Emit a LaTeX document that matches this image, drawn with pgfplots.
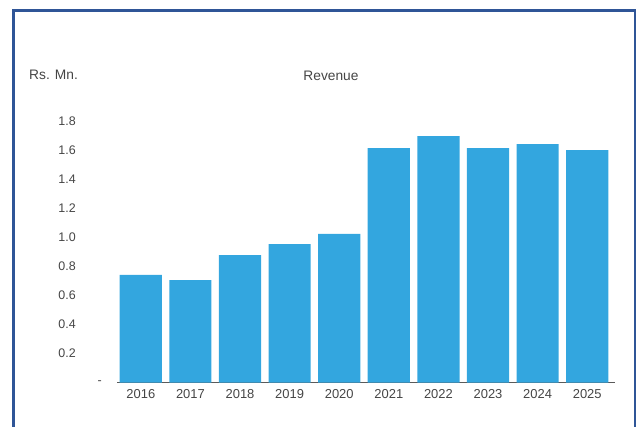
\documentclass[border=0pt]{standalone}
\usepackage{pgfplots}
\pgfplotsset{compat=1.18}
\usepackage{fontspec}
\setmainfont{Liberation Sans}
\definecolor{barblue}{HTML}{33A6DF}
\definecolor{frameblue}{HTML}{2F5597}
\definecolor{txtgray}{HTML}{454545}
\definecolor{axgray}{HTML}{5A5A5A}
\begin{document}
\begin{tikzpicture}[x=1bp,y=1bp]
\useasboundingbox (0,0) rectangle (637,426);
\draw[frameblue, line width=2.2bp] (13.5,-1) -- (13.5,415.5) -- (635.3,415.5) -- (635.3,-1);
\begin{axis}[
  at={(117bp,43.3bp)}, anchor=south west,
  scale only axis, width=498bp, height=261.7bp,
  xmin=-0.48, xmax=9.56, ymin=0, ymax=1.8,
  axis x line*=bottom, axis y line*=left,
  y axis line style={draw=none},
  x axis line style={draw=axgray, line width=1.3bp, -},
  major tick length=0pt,
  xtick={0,...,9},
  xticklabels={2016,2017,2018,2019,2020,2021,2022,2023,2024,2025},
  ytick={0.2,0.4,0.6,0.8,1.0,1.2,1.4,1.6,1.8},
  yticklabels={0.2,0.4,0.6,0.8,1.0,1.2,1.4,1.6,1.8},
  extra y ticks={0}, extra y tick labels={-},
  extra y tick style={yticklabel style={xshift=26bp}},
  yticklabel style={font=\fontsize{12.5}{14}\selectfont, text=txtgray, inner sep=0pt, anchor=east, xshift=-41bp},
  xticklabel style={font=\fontsize{13}{15}\selectfont, text=txtgray, inner sep=0pt, anchor=north, yshift=-7bp},
  clip=false,
]
\addplot[ybar, bar width=0.85, fill=barblue, draw=none] coordinates {
(0,0.741) (1,0.706) (2,0.878) (3,0.954) (4,1.023)
(5,1.614) (6,1.696) (7,1.614) (8,1.641) (9,1.600)};
\end{axis}
\node[anchor=west, inner sep=0pt, text=txtgray, font=\fontsize{13.8}{15}\selectfont] at (29,351) {Rs. Mn.};
\node[inner sep=0pt, text=txtgray, font=\fontsize{13.8}{15}\selectfont] at (331,350) {Revenue};
\end{tikzpicture}
\end{document}
